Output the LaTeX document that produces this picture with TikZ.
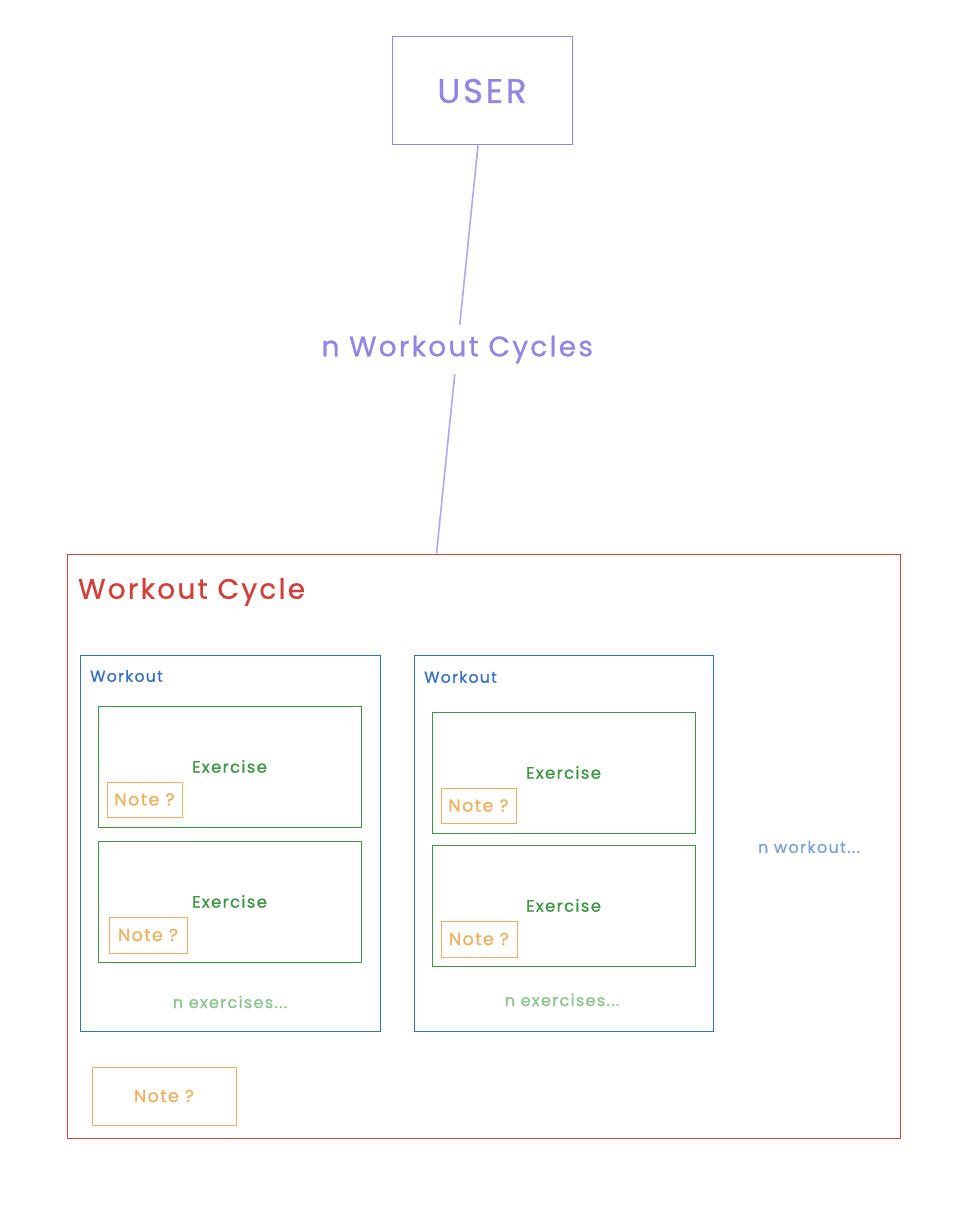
\documentclass[tikz,border=0pt]{standalone}
\usepackage{fontspec}
\setmainfont[LetterSpace=8,FakeBold=0.8]{Poppins}
\usetikzlibrary{calc}
\definecolor{userc}{HTML}{9585E2}
\definecolor{linec}{HTML}{B2A7EE}
\definecolor{redc}{HTML}{D0413B}
\definecolor{bluec}{HTML}{3570C0}
\definecolor{greenc}{HTML}{3F9545}
\definecolor{orangec}{HTML}{EDB060}
\definecolor{lgreenc}{HTML}{8CC490}
\definecolor{lbluec}{HTML}{7BA2D9}
\begin{document}
\begin{tikzpicture}[x=1pt,y=-1pt,
  box/.style={draw, line width=1pt, rectangle, inner sep=0pt, align=center},
  wbox/.style={box, draw=bluec, minimum width=300pt, minimum height=376pt},
  exbox/.style={box, draw=greenc, minimum width=263pt, minimum height=121pt, text=greenc, font=\fontsize{16.5}{20}\selectfont},
  notebox/.style={box, draw=orangec, text=orangec, font=\fontsize{17.5}{21}\selectfont},
  wlabel/.style={anchor=west, inner sep=0pt, text=bluec, font=\fontsize{15.7}{19}\selectfont},
  more/.style={inner sep=0pt, font=\fontsize{16.1}{19}\selectfont}
]
\useasboundingbox (0,0) rectangle (968,1206);
\fill[white] (0,0) rectangle (968,1206);

\node[box, draw=userc, minimum width=180pt, minimum height=108pt, text=userc, font=\fontsize{34}{40}\selectfont] (user) at (482,91) {USER};

\node[box, draw=redc, minimum width=833pt, minimum height=584pt] (cycle) at (483.5,846) {};
\node[anchor=west, inner sep=0pt, text=redc, font=\fontsize{28}{34}\selectfont] (title) at (78,592) {Workout Cycle};

\coordinate (ustart) at ($(user.south)+(-4,0)$);
\coordinate (cend) at ($(cycle.north)+(-47,0)$);
\draw[linec, line width=1.6pt] (ustart) -- node[fill=white, text=userc, inner xsep=2pt, inner ysep=11pt, font=\fontsize{28}{34}\selectfont] (lbl) {n Workout Cycles} (cend);

\node[wbox] (w1) at (230,843) {};
\node[wbox, minimum width=299pt] (w2) at (563.5,843) {};
\node[wlabel] (w1l) at (90,676) {Workout};
\node[wlabel] (w2l) at (424,677) {Workout};

\node[exbox] (e1a) at (229.5,766.5) {Exercise};
\node[exbox] (e1b) at (229.5,901.5) {Exercise};
\node[exbox] (e2a) at (563.5,772.5) {Exercise};
\node[exbox] (e2b) at (563.5,905.5) {Exercise};

\node[notebox, minimum width=75pt, minimum height=35pt] (n1a) at (144.5,799.5) {Note ?};
\node[notebox, minimum width=78pt, minimum height=36pt] (n1b) at (148,935) {Note ?};
\node[notebox, minimum width=75pt, minimum height=35pt] (n2a) at (478.5,805.5) {Note ?};
\node[notebox, minimum width=76pt, minimum height=36pt] (n2b) at (479,939) {Note ?};
\node[notebox, minimum width=144pt, minimum height=58pt] (nc) at (164,1096) {Note ?};

\node[more, text=lgreenc] (m1) at (230,1002) {n exercises...};
\node[more, text=lgreenc] (m2) at (562,1000) {n exercises...};
\node[more, text=lbluec] (mw) at (809,847) {n workout...};
\end{tikzpicture}
\end{document}
